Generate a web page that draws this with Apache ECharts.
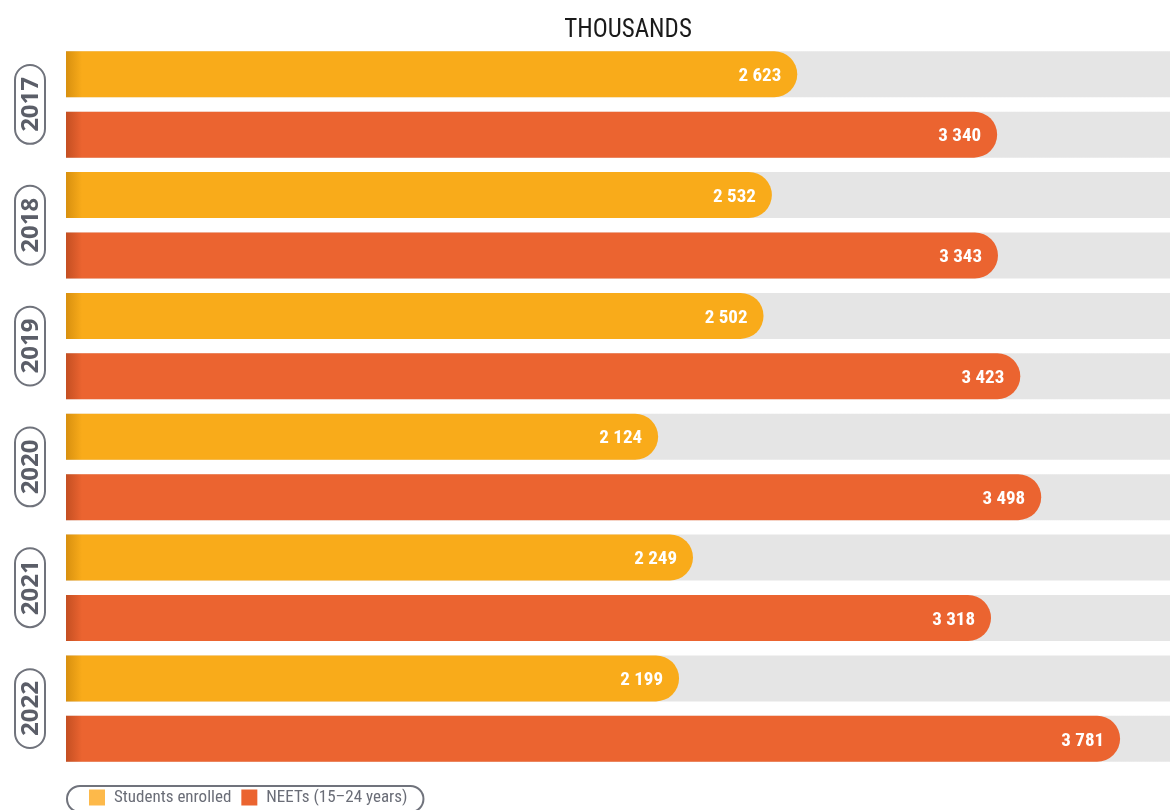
<!DOCTYPE html>
<html>
<head>
<meta charset="utf-8">
<script src="https://cdn.jsdelivr.net/npm/echarts@6/dist/echarts.min.js"></script>
<style>
html,body{margin:0;padding:0;background:#fff;}
#chart{width:1170px;height:810px;}
</style>
</head>
<body>
<div id="chart"></div>
<script>
const years = ['2017', '2018', '2019', '2020', '2021', '2022'];
const studentsEnrolled = [2623, 2532, 2502, 2124, 2249, 2199];
const neets = [3340, 3343, 3423, 3498, 3318, 3781];
const seriesNames = ['Students enrolled', 'NEETs (15\u201324 years)'];
const unitTitle = 'THOUSANDS';

const COND = '"Liberation Sans Narrow", "Arial Narrow", "Roboto Condensed", sans-serif';
const YELLOW = '#f9ab1a';
const ORANGE = '#eb6430';

// 12 bar slots: student bar then NEET bar for each year
const slots = [];
const sData = [];
const nData = [];
years.forEach((y, i) => {
  slots.push(y + ' s'); slots.push(y + ' n');
  sData.push(studentsEnrolled[i]); sData.push(null);
  nData.push(null); nData.push(neets[i]);
});

function shade(c1, c2) {
  return { type: 'linear', x: 66, y: 0, x2: 82, y2: 0, global: true,
    colorStops: [{ offset: 0, color: c1 }, { offset: 1, color: c2 }] };
}
function fmt(v) {
  return String(v).replace(/\B(?=(\d{3})+(?!\d))/g, ' ');
}
const labelCfg = {
  show: true, position: 'insideRight', distance: 16, offset: [0, 2],
  color: '#fff', fontFamily: COND, fontWeight: 'bold', fontSize: 19,
  formatter: p => fmt(p.value)
};

const chart = echarts.init(document.getElementById('chart'), null, { renderer: 'canvas' });
chart.setOption({
  animation: false,
  title: {
    text: unitTitle, left: 623, top: 13, textAlign: 'center',
    textStyle: { fontFamily: COND, fontWeight: 'normal', fontSize: 25, color: '#1a1a1a' }
  },
  grid: { left: 66, right: 0, top: 44, height: 725, containLabel: false },
  legend: {
    left: 67, top: 786,
    data: [
      { name: seriesNames[0], itemStyle: { color: '#fdb94a' } },
      { name: seriesNames[1], itemStyle: { color: ORANGE } }
    ],
    icon: 'rect', itemWidth: 16, itemHeight: 16, itemGap: 10,
    padding: [3, 16, 6, 22],
    borderColor: '#70737c', borderWidth: 2, borderRadius: 18,
    textStyle: { fontFamily: COND, fontSize: 17, color: '#6a6d77', padding: [0, 0, 0, 4] }
  },
  xAxis: { type: 'value', min: 0, max: 3960, show: false },
  yAxis: [
    { type: 'category', data: slots, inverse: true, show: false },
    {
      type: 'category', data: years, inverse: true, position: 'left',
      axisLine: { show: false }, axisTick: { show: false }, splitLine: { show: false },
      axisLabel: {
        rotate: 90, margin: 21,
        fontFamily: '"Open Sans", sans-serif', fontWeight: 'bold', fontSize: 24, color: '#5b5e68',
        lineHeight: 26,
        borderColor: '#70737c', borderWidth: 2, borderRadius: 16,
        padding: [3, 12, 1, 12]
      }
    }
  ],
  series: [
    {
      name: seriesNames[0], type: 'bar', data: sData, yAxisIndex: 0,
      barWidth: 46, barGap: '-100%',
      showBackground: true,
      backgroundStyle: { color: shade('#d9d9d9', '#e5e5e5') },
      itemStyle: { color: shade('#d8900f', YELLOW), borderRadius: [0, 23, 23, 0] },
      label: labelCfg
    },
    {
      name: seriesNames[1], type: 'bar', data: nData, yAxisIndex: 0,
      barWidth: 46, barGap: '-100%',
      itemStyle: { color: shade('#c44f22', ORANGE), borderRadius: [0, 23, 23, 0] },
      label: labelCfg
    }
  ]
});
</script>
</body>
</html>
